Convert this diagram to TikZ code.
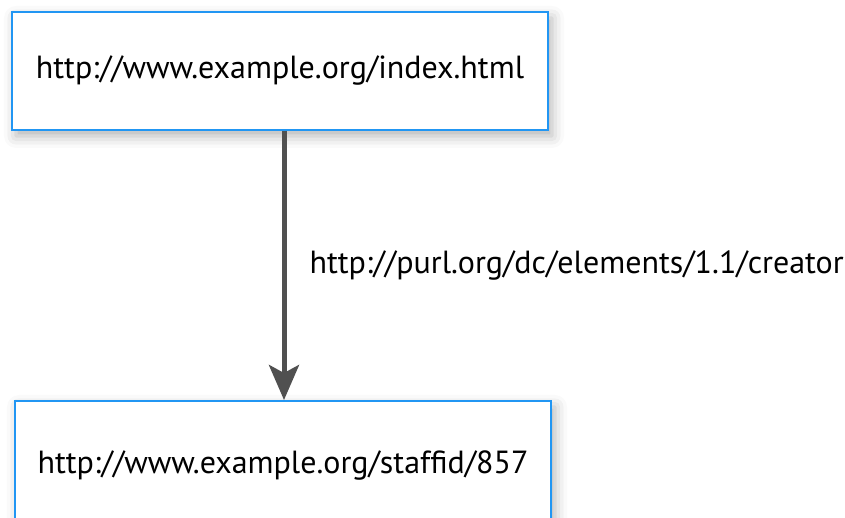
\documentclass[tikz,border=0pt]{standalone}
\usepackage{fontspec}
\setmainfont{PT Sans}
\usetikzlibrary{arrows.meta,shadows.blur}
\definecolor{boxblue}{HTML}{2196F3}
\definecolor{arrowgray}{HTML}{505050}
\tikzset{
  resource/.style={draw=boxblue, line width=2pt, fill=white, minimum width=536pt,
    minimum height=118pt, inner sep=0pt, font=\fontsize{32}{38}\selectfont,
    blur shadow={shadow xshift=4pt, shadow yshift=-6pt, shadow blur radius=12pt, shadow opacity=30}},
  property/.style={draw=arrowgray, line width=5pt,
    -{Stealth[length=35pt, width=30pt, inset=8pt]}},
  plabel/.style={font=\fontsize{32}{38}\selectfont, anchor=west, inner sep=0pt}
}
\begin{document}
\begin{tikzpicture}[x=1pt,y=1pt]
  \useasboundingbox (0,0) rectangle (845,518);
  \begin{scope}
    \clip (0,0) rectangle (845,518);
    % subject resource
    \node[resource] (page) at (280,447) {\raisebox{-3pt}{http://www.example.org/index.html}};
    % object resource, running past the lower edge
    \node[resource, minimum height=130pt, anchor=north west] (staff) at (14,118)
      {http://www.example.org/staffid/857};
    % predicate
    \draw[property] (page.south -| 284,0) -- (staff.north -| 284,0)
      node[midway, right=23pt, plabel] (pred) {http://purl.org/dc/elements/1.1/creator};
  \end{scope}
\end{tikzpicture}
\end{document}
